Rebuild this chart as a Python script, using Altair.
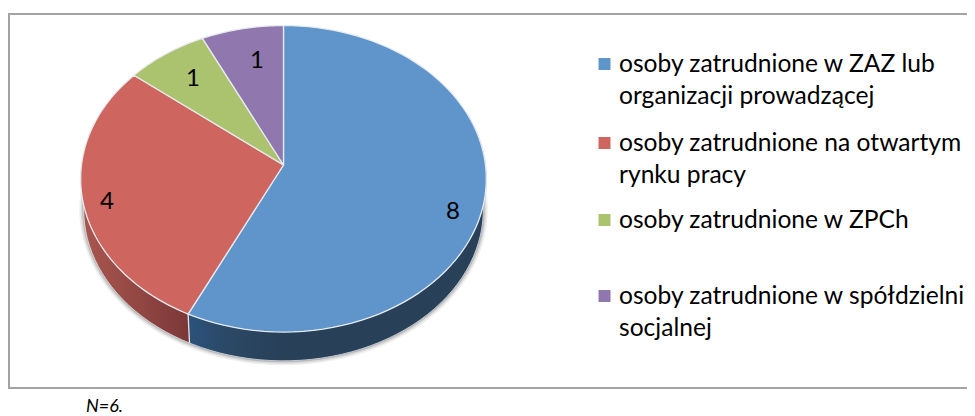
import math
import altair as alt
import pandas as pd

# ---- chart values ----
CATEGORIES = [
    "osoby zatrudnione w ZAZ lub|organizacji prowadzącej",
    "osoby zatrudnione na otwartym|rynku pracy",
    "osoby zatrudnione w ZPCh",
    "osoby zatrudnione w spółdzielni|socjalnej",
]
VALUES = [8, 4, 1, 1]
FOOTNOTE = "N=6."

# ---- styles and layout ----
TOP_COLORS = ["#5f95ca", "#ce655f", "#abc36e", "#9078ae"]
LABEL_POS = [(453, 212), (107, 202), (193, 79), (257, 61)]
LEGEND_ROWS = [64, 143, 220, 296]
FONT = "Lato"
W, H = 959, 408
CX, K = 283.5, 0.0901
TOP = dict(a=202.0, b=152.0, cy=165.0)
LOW = dict(a=199.0, b=150.0, cy=196.0)


def project(t_deg, r, rim):
    t = math.radians(t_deg)
    u, v = math.cos(t) * r, math.sin(t) * r
    d = 1 + K * u
    return CX + rim["a"] * v / d, rim["cy"] - rim["b"] * u / d


def arc(t0, t1, rim, n=80):
    return [project(t0 + (t1 - t0) * i / n, 1, rim) for i in range(n + 1)]


def frame(points):
    return pd.DataFrame({"x": [p[0] for p in points], "y": [p[1] for p in points], "i": range(len(points))})


X = alt.X("x:Q", axis=None, scale=alt.Scale(domain=[8, 8 + W], zero=False, nice=False))
Y = alt.Y("y:Q", axis=None, scale=alt.Scale(domain=[8 + H, 8], zero=False, nice=False))


def poly(points, closed=True, **mark):
    if closed:
        mark["interpolate"] = "linear-closed"
    mark.setdefault("clip", False)
    return alt.Chart(frame(points)).mark_line(**mark).encode(x=X, y=Y, order=alt.Order("i:Q"))


total = sum(VALUES)
starts, acc = [], 0
for v in VALUES:
    starts.append(acc / total * 360)
    acc += v
ends = starts[1:] + [360.0]

layers = []

# chart frame (open at the right edge)
layers.append(poly([(975, 14), (9, 14), (9, 388), (975, 388)], closed=False, stroke="#a3a3a3", strokeWidth=2))

# soft shadow below the lower rim
for sw, op in [(9, 0.06), (6, 0.09), (3, 0.14)]:
    layers.append(poly(arc(75, 292, LOW), closed=False, stroke="#000000", strokeWidth=sw, opacity=op))

# side wall
blue_grad = alt.Gradient(gradient="linear", x1=0, x2=1, y1=0, y2=0, stops=[
    alt.GradientStop(color="#2c527c", offset=0),
    alt.GradientStop(color="#2b4865", offset=0.14),
    alt.GradientStop(color="#294059", offset=0.3),
    alt.GradientStop(color="#294059", offset=1),
])
red_grad = alt.Gradient(gradient="linear", x1=0, x2=1, y1=0, y2=0, stops=[
    alt.GradientStop(color="#aa574f", offset=0),
    alt.GradientStop(color="#8f4541", offset=0.6),
    alt.GradientStop(color="#7b3738", offset=1),
])
layers.append(poly(arc(70, ends[0], TOP) + arc(ends[0], 70, LOW), fill=blue_grad, stroke="#294059", strokeWidth=0.3))
layers.append(poly(arc(starts[1], 295, TOP) + arc(295, starts[1], LOW), fill=red_grad, strokeWidth=0))
layers.append(poly([project(ends[0], 1, TOP), project(ends[0], 1, LOW)], closed=False, stroke="#e4e4e4", strokeWidth=1.3))
layers.append(poly(arc(75, 292, LOW), closed=False, stroke="#dfe3e8", strokeWidth=0.8))

# top face
for s, e, c in zip(starts, ends, TOP_COLORS):
    pts = [project(0, 0, TOP)] + arc(s, e, TOP)
    layers.append(poly(pts, fill=c, stroke="#e6ebf1", strokeWidth=1.3, strokeJoin="round"))

# data labels
labels = pd.DataFrame({
    "x": [p[0] for p in LABEL_POS],
    "y": [p[1] for p in LABEL_POS],
    "v": VALUES,
})
layers.append(
    alt.Chart(labels).mark_text(font=FONT, fontSize=24, color="#000000", align="center", baseline="middle")
    .encode(x=X, y=Y, text="v:N")
)

# legend
legend = pd.DataFrame({
    "x": [604.5] * 4,
    "y": LEGEND_ROWS,
    "label": CATEGORIES,
    "color": TOP_COLORS,
})
layers.append(
    alt.Chart(legend).mark_square(size=144, opacity=1, clip=False)
    .encode(x=X, y=Y, color=alt.Color("color:N", scale=None, legend=None))
)
layers.append(
    alt.Chart(legend).mark_text(font=FONT, fontSize=24.6, color="#000000", align="left", baseline="middle",
                                lineBreak="|", lineHeight=32, dx=14.5, dy=1)
    .encode(x=X, y=Y, text="label:N")
)

# footnote
note = pd.DataFrame({"x": [86.0], "y": [406.5], "t": [FOOTNOTE]})
layers.append(
    alt.Chart(note).mark_text(font=FONT, fontSize=18, fontStyle="italic", color="#000000", align="left", baseline="middle")
    .encode(x=X, y=Y, text="t:N")
)

chart = alt.layer(*layers).properties(
    width=W, height=H, padding=0, autosize=alt.AutoSizeParams(type="none"), background="#ffffff"
).configure_view(stroke=None)

chart.save("out.html", embed_options={"renderer": "svg", "actions": False})
